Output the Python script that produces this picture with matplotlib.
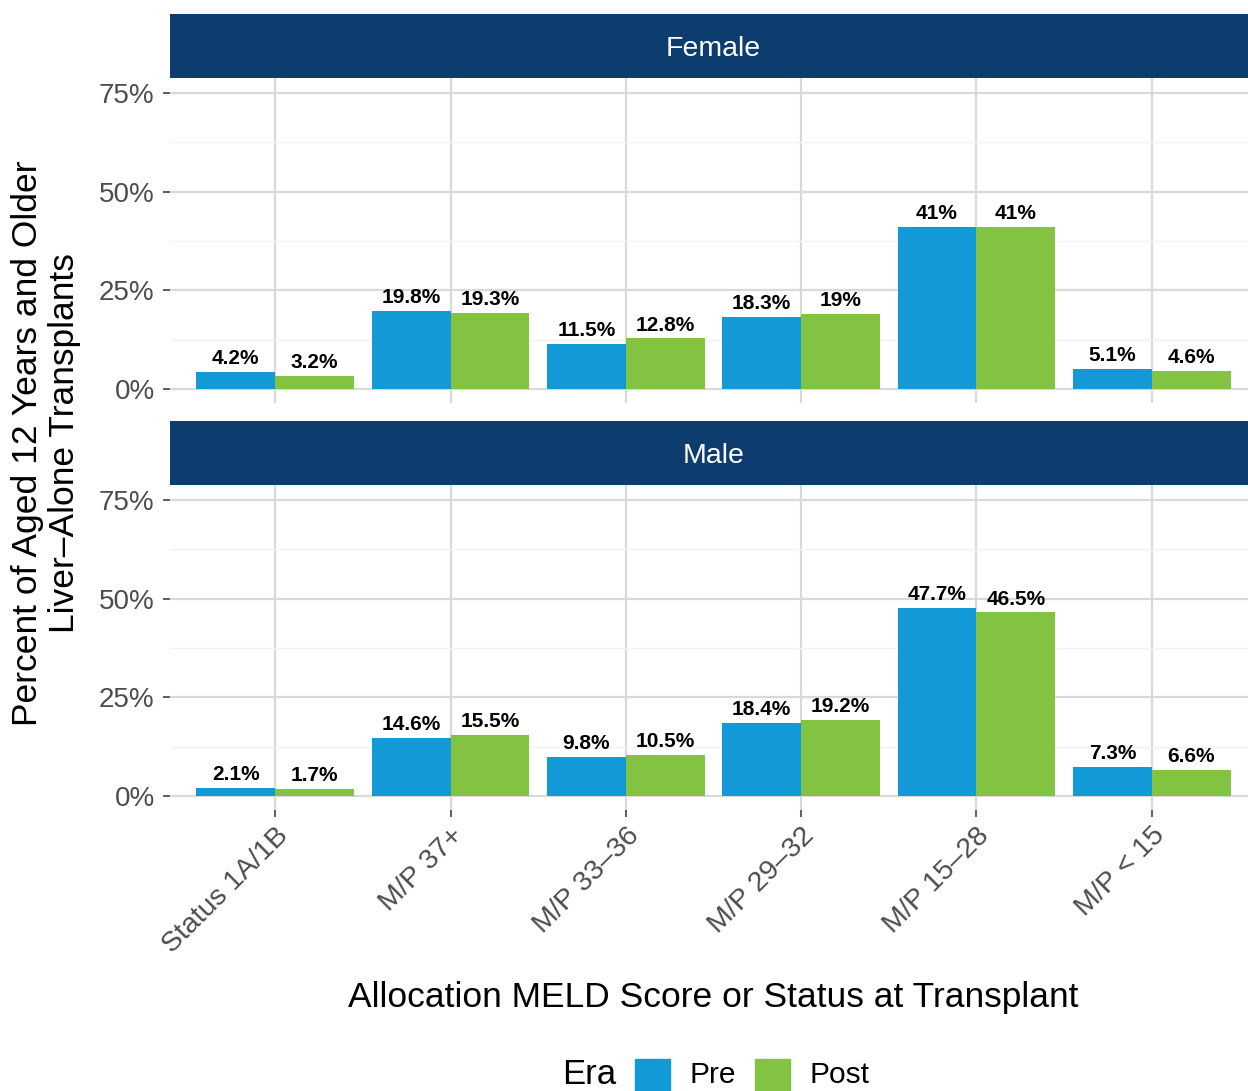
import numpy as np
import matplotlib
matplotlib.use("Agg")
import matplotlib.pyplot as plt
from matplotlib.patches import Rectangle

plt.rcParams['font.family'] = ['Liberation Sans', 'DejaVu Sans']

categories = ["Status 1A/1B", "M/P 37+", "M/P 33\u201336", "M/P 29\u201332", "M/P 15\u201328", "M/P < 15"]
eras = ["Pre", "Post"]
female_pre = [4.2, 19.8, 11.5, 18.3, 41, 5.1]
female_post = [3.2, 19.3, 12.8, 19, 41, 4.6]
male_pre = [2.1, 14.6, 9.8, 18.4, 47.7, 7.3]
male_post = [1.7, 15.5, 10.5, 19.2, 46.5, 6.6]
yticks = [0, 25, 50, 75]

BLUE = "#129AD7"
GREEN = "#82C341"
NAVY = "#0D3D6E"
W, H = 1248, 1091

fig = plt.figure(figsize=(W / 100, H / 100), dpi=100)


def fbox(x0, y0, x1, y1):
    # pixel box (top-left origin) -> figure fraction rect
    return [x0 / W, (H - y1) / H, (x1 - x0) / W, (y1 - y0) / H]


def panel(rect, strip_px, title, pre, post, show_x):
    ax = fig.add_axes(rect)
    x = np.arange(1, len(categories) + 1)
    bw = 0.45
    ax.bar(x - bw / 2, pre, width=bw, color=BLUE, zorder=3)
    ax.bar(x + bw / 2, post, width=bw, color=GREEN, zorder=3)
    for xi, v in zip(x - bw / 2, pre):
        ax.text(xi, v + 1.0, f"{v:g}%", ha="center", va="bottom",
                fontsize=15, fontweight="bold", zorder=4)
    for xi, v in zip(x + bw / 2, post):
        ax.text(xi, v + 1.0, f"{v:g}%", ha="center", va="bottom",
                fontsize=15, fontweight="bold", zorder=4)
    ax.set_xlim(0.4, 6.6)
    ax.set_ylim(-3.55, 78.8)
    ax.set_yticks(yticks)
    ax.set_yticklabels([f"{t}%" for t in yticks])
    ax.set_yticks([12.5, 37.5, 62.5], minor=True)
    ax.set_xticks(x)
    ax.grid(which="major", color="#D9D9D9", linewidth=1.6, zorder=0)
    ax.grid(which="minor", axis="y", color="#F2F2F2", linewidth=1.0, zorder=0)
    ax.tick_params(axis="y", which="major", length=5, width=1.1, color="#333333",
                   labelsize=20, labelcolor="#4D4D4D", pad=6)
    ax.tick_params(axis="y", which="minor", length=0)
    if show_x:
        ax.set_xticklabels(categories, rotation=45, ha="right", va="top",
                           rotation_mode="anchor")
        ax.tick_params(axis="x", length=5, width=1.1, color="#333333",
                       labelsize=20.5, labelcolor="#4D4D4D", pad=4)
    else:
        ax.set_xticklabels([])
        ax.tick_params(axis="x", length=0)
    for s in ax.spines.values():
        s.set_visible(False)

    sax = fig.add_axes(fbox(*strip_px))
    sax.set_facecolor(NAVY)
    sax.set_xticks([])
    sax.set_yticks([])
    for s in sax.spines.values():
        s.set_visible(False)
    sax.text(0.5, 0.45, title, transform=sax.transAxes, color="white",
             fontsize=20.5, ha="center", va="center")
    return ax


panel(fbox(170, 78, 1257, 403), (170, 14, 1257, 78), "Female",
      female_pre, female_post, False)
panel(fbox(170, 485, 1257, 810), (170, 421, 1257, 485), "Male",
      male_pre, male_post, True)

fig.text(46 / W, 1 - 443 / H, "Percent of Aged 12 Years and Older\nLiver\u2013Alone Transplants",
         rotation=90, ha="center", va="center", fontsize=25.5, linespacing=1.12)
fig.text(713 / W, 1 - 997 / H, "Allocation MELD Score or Status at Transplant",
         ha="center", va="center", fontsize=25.5)

# legend
fig.text(562 / W, 1 - 1074 / H, "Era", ha="left", va="center", fontsize=25)
fig.patches.append(Rectangle((635 / W, 1 - 1092 / H), 35 / W, 33 / H,
                             transform=fig.transFigure, color=BLUE, figure=fig))
fig.text(690 / W, 1 - 1075 / H, "Pre", ha="left", va="center", fontsize=21.5)
fig.patches.append(Rectangle((755 / W, 1 - 1092 / H), 35 / W, 33 / H,
                             transform=fig.transFigure, color=GREEN, figure=fig))
fig.text(810 / W, 1 - 1075 / H, "Post", ha="left", va="center", fontsize=21.5)

fig.savefig("out.png", dpi=100)
